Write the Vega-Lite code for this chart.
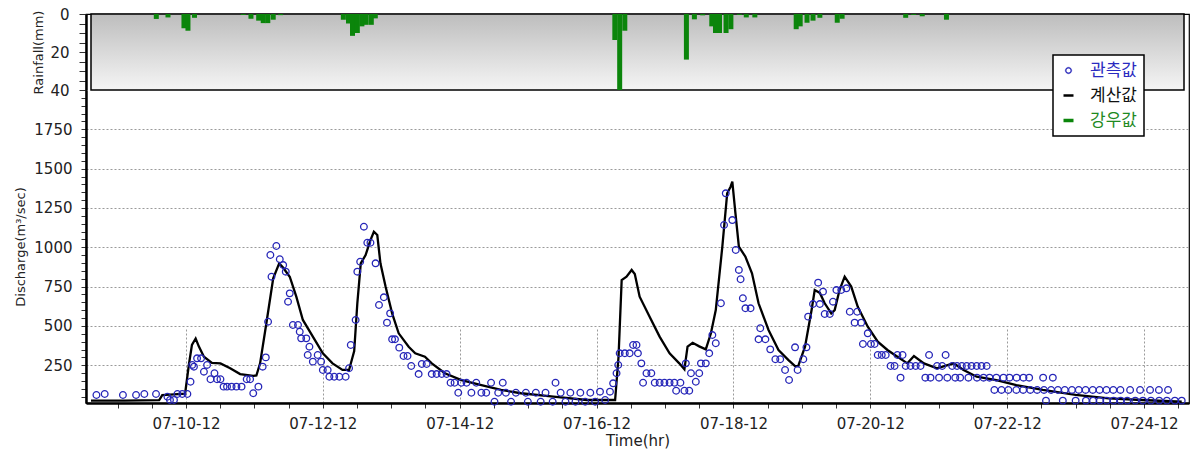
{
  "$schema": "https://vega.github.io/schema/vega-lite/v6.json",
  "width": 1103,
  "height": 389,
  "autosize": {"type": "none"},
  "padding": {"left": 86, "top": 14, "right": 3, "bottom": 47},
  "background": "white",
  "config": {
    "font": "DejaVu Sans",
    "view": {"stroke": "black", "strokeWidth": 1.2}
  },
  "datasets": {
    "rain": [
      {"h": 25.6, "mm": 2.6}, {"h": 29.7, "mm": 1.8}, {"h": 35.3, "mm": 7.5}, {"h": 36.7, "mm": 8.8}, {"h": 39.0, "mm": 2},
      {"h": 56.1, "mm": 0.5}, {"h": 58.8, "mm": 2.5}, {"h": 61.5, "mm": 3.5}, {"h": 63.1, "mm": 4.8}, {"h": 64.7, "mm": 4.8},
      {"h": 66.6, "mm": 3}, {"h": 69.2, "mm": 0.6}, {"h": 91.2, "mm": 3}, {"h": 93.0, "mm": 5}, {"h": 94.4, "mm": 11.5},
      {"h": 96.1, "mm": 10}, {"h": 97.7, "mm": 6.5}, {"h": 99.2, "mm": 5.7}, {"h": 101.0, "mm": 5.7}, {"h": 102.4, "mm": 2.3},
      {"h": 186.4, "mm": 13.7}, {"h": 188.1, "mm": 40}, {"h": 189.9, "mm": 8.8}, {"h": 211.5, "mm": 24}, {"h": 214.3, "mm": 2.8},
      {"h": 217.2, "mm": 0.7}, {"h": 220.4, "mm": 6.5}, {"h": 221.7, "mm": 10}, {"h": 223.1, "mm": 10}, {"h": 225.4, "mm": 10},
      {"h": 227.1, "mm": 8}, {"h": 230.1, "mm": 0.5}, {"h": 232.5, "mm": 1.8}, {"h": 235.5, "mm": 1.8}, {"h": 250.0, "mm": 8},
      {"h": 251.4, "mm": 6.5}, {"h": 253.8, "mm": 4.6}, {"h": 255.9, "mm": 3.5}, {"h": 258.3, "mm": 2}, {"h": 264.4, "mm": 4.6},
      {"h": 266.1, "mm": 2.5}, {"h": 288.4, "mm": 2}, {"h": 291.2, "mm": 0.5}, {"h": 294.2, "mm": 1.2}, {"h": 302.7, "mm": 3}
    ],
    "calc": [
      {"h": 2.7, "q": 25}, {"h": 14.5, "q": 25}, {"h": 26.6, "q": 28}, {"h": 27.7, "q": 60}, {"h": 31.8, "q": 65},
      {"h": 35.7, "q": 70}, {"h": 37.0, "q": 250}, {"h": 38.1, "q": 380}, {"h": 39.4, "q": 420}, {"h": 40.5, "q": 370},
      {"h": 42.3, "q": 304}, {"h": 45.1, "q": 265}, {"h": 48.1, "q": 262}, {"h": 51.5, "q": 231}, {"h": 55.0, "q": 194},
      {"h": 59.6, "q": 182}, {"h": 60.7, "q": 185}, {"h": 62.0, "q": 262}, {"h": 64.2, "q": 517}, {"h": 66.6, "q": 803},
      {"h": 68.7, "q": 898}, {"h": 70.1, "q": 870}, {"h": 72.4, "q": 813}, {"h": 74.7, "q": 686}, {"h": 77.0, "q": 538},
      {"h": 80.5, "q": 432}, {"h": 84.0, "q": 326}, {"h": 87.4, "q": 262}, {"h": 90.9, "q": 220}, {"h": 93.2, "q": 220},
      {"h": 95.0, "q": 340}, {"h": 96.1, "q": 644}, {"h": 97.3, "q": 898}, {"h": 99.0, "q": 951}, {"h": 100.7, "q": 1046},
      {"h": 101.9, "q": 1099}, {"h": 103.1, "q": 1078}, {"h": 104.2, "q": 898}, {"h": 106.0, "q": 750}, {"h": 108.3, "q": 580},
      {"h": 110.6, "q": 453}, {"h": 114.1, "q": 368}, {"h": 116.4, "q": 326}, {"h": 119.8, "q": 304}, {"h": 122.2, "q": 262},
      {"h": 126.8, "q": 199}, {"h": 132.6, "q": 156}, {"h": 139.6, "q": 124}, {"h": 146.5, "q": 93}, {"h": 153.5, "q": 72},
      {"h": 164.9, "q": 50}, {"h": 176.6, "q": 29}, {"h": 186.5, "q": 29}, {"h": 187.7, "q": 304}, {"h": 188.8, "q": 792},
      {"h": 190.5, "q": 813}, {"h": 192.3, "q": 856}, {"h": 193.4, "q": 830}, {"h": 195.1, "q": 686}, {"h": 198.6, "q": 559},
      {"h": 202.1, "q": 432}, {"h": 205.6, "q": 326}, {"h": 209.0, "q": 262}, {"h": 210.8, "q": 224}, {"h": 211.9, "q": 368},
      {"h": 213.7, "q": 393}, {"h": 216.0, "q": 370}, {"h": 218.3, "q": 351}, {"h": 220.1, "q": 453}, {"h": 221.8, "q": 601},
      {"h": 224.1, "q": 1004}, {"h": 225.8, "q": 1343}, {"h": 227.0, "q": 1385}, {"h": 227.6, "q": 1417}, {"h": 228.7, "q": 1216},
      {"h": 229.9, "q": 1004}, {"h": 232.2, "q": 940}, {"h": 234.5, "q": 835}, {"h": 236.8, "q": 644}, {"h": 240.3, "q": 474},
      {"h": 243.8, "q": 347}, {"h": 247.3, "q": 283}, {"h": 249.6, "q": 245}, {"h": 250.7, "q": 245}, {"h": 253.1, "q": 368},
      {"h": 255.4, "q": 601}, {"h": 256.5, "q": 728}, {"h": 258.3, "q": 710}, {"h": 260.0, "q": 644}, {"h": 262.3, "q": 580},
      {"h": 263.5, "q": 601}, {"h": 265.2, "q": 728}, {"h": 267.0, "q": 813}, {"h": 269.3, "q": 750}, {"h": 271.6, "q": 622},
      {"h": 275.1, "q": 495}, {"h": 278.6, "q": 400}, {"h": 282.0, "q": 347}, {"h": 285.5, "q": 304}, {"h": 289.0, "q": 262},
      {"h": 291.3, "q": 309}, {"h": 294.8, "q": 262}, {"h": 299.4, "q": 231}, {"h": 305.2, "q": 262}, {"h": 308.7, "q": 220},
      {"h": 313.3, "q": 177}, {"h": 320.2, "q": 156}, {"h": 327.2, "q": 124}, {"h": 336.5, "q": 93}, {"h": 348.0, "q": 61},
      {"h": 359.6, "q": 40}, {"h": 371.2, "q": 29}, {"h": 385.2, "q": 18}
    ],
    "obs": [
      {"h": 4.6, "q": 61}, {"h": 7.5, "q": 67}, {"h": 13.9, "q": 61}, {"h": 18.5, "q": 61}, {"h": 21.4, "q": 67},
      {"h": 25.5, "q": 67}, {"h": 29.5, "q": 50}, {"h": 30.4, "q": 29}, {"h": 31.8, "q": 29}, {"h": 33.0, "q": 67},
      {"h": 34.7, "q": 67}, {"h": 36.5, "q": 67}, {"h": 37.6, "q": 145}, {"h": 38.2, "q": 252}, {"h": 38.8, "q": 241},
      {"h": 39.9, "q": 294}, {"h": 41.3, "q": 294}, {"h": 42.3, "q": 209}, {"h": 43.4, "q": 252}, {"h": 44.6, "q": 161},
      {"h": 46.0, "q": 199}, {"h": 46.9, "q": 161}, {"h": 48.1, "q": 161}, {"h": 49.2, "q": 114}, {"h": 50.4, "q": 114},
      {"h": 52.0, "q": 114}, {"h": 53.7, "q": 114}, {"h": 55.5, "q": 114}, {"h": 57.3, "q": 161}, {"h": 58.5, "q": 161},
      {"h": 59.6, "q": 72}, {"h": 61.4, "q": 114}, {"h": 62.9, "q": 241}, {"h": 64.0, "q": 300}, {"h": 64.8, "q": 527},
      {"h": 65.6, "q": 951}, {"h": 66.0, "q": 813}, {"h": 67.7, "q": 1008}, {"h": 68.9, "q": 924}, {"h": 70.1, "q": 887},
      {"h": 71.0, "q": 845}, {"h": 71.8, "q": 654}, {"h": 72.4, "q": 707}, {"h": 73.5, "q": 506}, {"h": 75.3, "q": 506},
      {"h": 75.9, "q": 463}, {"h": 76.4, "q": 421}, {"h": 78.2, "q": 421}, {"h": 78.7, "q": 315}, {"h": 79.3, "q": 368},
      {"h": 80.5, "q": 273}, {"h": 82.2, "q": 315}, {"h": 83.4, "q": 273}, {"h": 84.0, "q": 220}, {"h": 85.7, "q": 220},
      {"h": 86.3, "q": 177}, {"h": 88.0, "q": 177}, {"h": 89.8, "q": 177}, {"h": 92.0, "q": 177}, {"h": 93.2, "q": 231},
      {"h": 93.8, "q": 379}, {"h": 95.5, "q": 538}, {"h": 96.1, "q": 845}, {"h": 97.1, "q": 908}, {"h": 98.4, "q": 1131},
      {"h": 99.6, "q": 1029}, {"h": 100.7, "q": 1029}, {"h": 102.5, "q": 898}, {"h": 103.7, "q": 633}, {"h": 105.4, "q": 682},
      {"h": 106.5, "q": 521}, {"h": 107.6, "q": 580}, {"h": 108.3, "q": 415}, {"h": 109.3, "q": 415}, {"h": 110.8, "q": 362},
      {"h": 112.3, "q": 309}, {"h": 113.7, "q": 309}, {"h": 115.0, "q": 245}, {"h": 117.6, "q": 194}, {"h": 118.7, "q": 258},
      {"h": 120.4, "q": 258}, {"h": 122.2, "q": 194}, {"h": 123.9, "q": 194}, {"h": 125.7, "q": 194}, {"h": 127.4, "q": 194},
      {"h": 128.8, "q": 139}, {"h": 130.2, "q": 139}, {"h": 131.5, "q": 75}, {"h": 132.6, "q": 139}, {"h": 134.4, "q": 139},
      {"h": 136.1, "q": 75}, {"h": 137.8, "q": 139}, {"h": 139.6, "q": 75}, {"h": 141.3, "q": 75}, {"h": 143.0, "q": 139},
      {"h": 144.2, "q": 18}, {"h": 145.5, "q": 75}, {"h": 147.1, "q": 139}, {"h": 148.2, "q": 75}, {"h": 150.0, "q": 18},
      {"h": 151.7, "q": 75}, {"h": 155.2, "q": 75}, {"h": 155.9, "q": 18}, {"h": 158.7, "q": 75}, {"h": 160.4, "q": 18},
      {"h": 162.1, "q": 75}, {"h": 164.6, "q": 18}, {"h": 165.6, "q": 139}, {"h": 167.4, "q": 75}, {"h": 169.1, "q": 18},
      {"h": 170.8, "q": 75}, {"h": 172.6, "q": 18}, {"h": 174.3, "q": 75}, {"h": 176.0, "q": 18}, {"h": 177.8, "q": 75},
      {"h": 179.5, "q": 18}, {"h": 181.2, "q": 82}, {"h": 183.0, "q": 29}, {"h": 184.7, "q": 82}, {"h": 185.8, "q": 135},
      {"h": 187.0, "q": 199}, {"h": 187.6, "q": 252}, {"h": 188.1, "q": 326}, {"h": 189.9, "q": 326}, {"h": 191.6, "q": 326},
      {"h": 192.8, "q": 379}, {"h": 194.0, "q": 379}, {"h": 194.5, "q": 326}, {"h": 195.7, "q": 262}, {"h": 196.3, "q": 139},
      {"h": 197.5, "q": 199}, {"h": 199.2, "q": 199}, {"h": 200.4, "q": 139}, {"h": 202.1, "q": 139}, {"h": 203.8, "q": 139},
      {"h": 205.6, "q": 139}, {"h": 207.3, "q": 139}, {"h": 207.9, "q": 88}, {"h": 209.4, "q": 139}, {"h": 210.8, "q": 88},
      {"h": 211.3, "q": 262}, {"h": 212.5, "q": 88}, {"h": 213.1, "q": 199}, {"h": 214.8, "q": 145}, {"h": 216.0, "q": 199},
      {"h": 216.6, "q": 262}, {"h": 218.3, "q": 262}, {"h": 219.5, "q": 326}, {"h": 220.6, "q": 442}, {"h": 221.8, "q": 390},
      {"h": 223.6, "q": 644}, {"h": 224.7, "q": 1142}, {"h": 225.3, "q": 1343}, {"h": 227.6, "q": 1173}, {"h": 228.8, "q": 983},
      {"h": 229.9, "q": 856}, {"h": 230.5, "q": 797}, {"h": 231.3, "q": 676}, {"h": 232.2, "q": 612}, {"h": 234.0, "q": 612},
      {"h": 236.8, "q": 415}, {"h": 237.4, "q": 485}, {"h": 239.2, "q": 415}, {"h": 240.9, "q": 351}, {"h": 242.7, "q": 288},
      {"h": 244.4, "q": 288}, {"h": 246.1, "q": 220}, {"h": 247.5, "q": 156}, {"h": 249.6, "q": 364}, {"h": 250.5, "q": 220},
      {"h": 252.5, "q": 288}, {"h": 253.6, "q": 364}, {"h": 254.2, "q": 559}, {"h": 255.9, "q": 639}, {"h": 257.7, "q": 775},
      {"h": 258.3, "q": 639}, {"h": 259.4, "q": 718}, {"h": 260.0, "q": 576}, {"h": 261.8, "q": 576}, {"h": 262.9, "q": 654},
      {"h": 264.1, "q": 728}, {"h": 265.8, "q": 728}, {"h": 267.6, "q": 739}, {"h": 268.8, "q": 590}, {"h": 270.5, "q": 521},
      {"h": 271.4, "q": 590}, {"h": 272.8, "q": 521}, {"h": 273.4, "q": 385}, {"h": 275.1, "q": 453}, {"h": 276.2, "q": 385},
      {"h": 277.5, "q": 385}, {"h": 278.6, "q": 315}, {"h": 280.0, "q": 315}, {"h": 281.4, "q": 315}, {"h": 283.1, "q": 245},
      {"h": 284.5, "q": 245}, {"h": 285.5, "q": 315}, {"h": 286.6, "q": 171}, {"h": 287.3, "q": 315}, {"h": 288.4, "q": 245},
      {"h": 290.1, "q": 245}, {"h": 291.9, "q": 245}, {"h": 293.6, "q": 245}, {"h": 295.3, "q": 171}, {"h": 296.6, "q": 315},
      {"h": 297.1, "q": 171}, {"h": 299.4, "q": 245}, {"h": 300.1, "q": 171}, {"h": 301.2, "q": 245}, {"h": 302.4, "q": 315},
      {"h": 303.0, "q": 171}, {"h": 304.7, "q": 245}, {"h": 305.8, "q": 171}, {"h": 306.4, "q": 245}, {"h": 307.5, "q": 171},
      {"h": 308.1, "q": 245}, {"h": 309.8, "q": 245}, {"h": 310.4, "q": 171}, {"h": 311.5, "q": 245}, {"h": 313.3, "q": 245},
      {"h": 313.4, "q": 171}, {"h": 315.0, "q": 245}, {"h": 315.7, "q": 171}, {"h": 316.8, "q": 245}, {"h": 317.8, "q": 171},
      {"h": 319.5, "q": 93}, {"h": 320.2, "q": 171}, {"h": 322.0, "q": 93}, {"h": 322.7, "q": 171}, {"h": 324.4, "q": 93},
      {"h": 324.8, "q": 171}, {"h": 327.2, "q": 93}, {"h": 327.3, "q": 171}, {"h": 329.6, "q": 93}, {"h": 329.7, "q": 171},
      {"h": 331.7, "q": 171}, {"h": 332.1, "q": 93}, {"h": 334.5, "q": 93}, {"h": 336.6, "q": 171}, {"h": 336.9, "q": 93},
      {"h": 337.6, "q": 25}, {"h": 339.4, "q": 93}, {"h": 340.0, "q": 171}, {"h": 341.8, "q": 93}, {"h": 343.5, "q": 25},
      {"h": 344.2, "q": 93}, {"h": 346.7, "q": 93}, {"h": 348.0, "q": 25}, {"h": 349.1, "q": 93}, {"h": 351.5, "q": 93},
      {"h": 351.6, "q": 25}, {"h": 354.0, "q": 93}, {"h": 354.1, "q": 25}, {"h": 356.4, "q": 93}, {"h": 356.5, "q": 25},
      {"h": 358.8, "q": 93}, {"h": 358.9, "q": 25}, {"h": 361.2, "q": 93}, {"h": 361.3, "q": 25}, {"h": 363.7, "q": 93},
      {"h": 363.8, "q": 25}, {"h": 366.1, "q": 25}, {"h": 367.1, "q": 93}, {"h": 368.9, "q": 25}, {"h": 370.6, "q": 93},
      {"h": 371.6, "q": 25}, {"h": 374.1, "q": 93}, {"h": 374.4, "q": 25}, {"h": 377.2, "q": 93}, {"h": 377.3, "q": 25},
      {"h": 380.0, "q": 25}, {"h": 380.4, "q": 93}, {"h": 382.8, "q": 25}, {"h": 385.2, "q": 25}
    ]
  },
  "layer": [
    {
      "layer": [
        {
          "data": {"values": [{}]},
          "mark": {
            "type": "rect",
            "fill": {
              "gradient": "linear", "x1": 0, "y1": 0, "x2": 0, "y2": 1,
              "stops": [{"offset": 0, "color": "#bdbdbd"}, {"offset": 1, "color": "#f5f5f5"}]
            },
            "stroke": "black",
            "strokeWidth": 1.5
          },
          "encoding": {
            "x": {"datum": 2.7, "type": "quantitative"},
            "x2": {"datum": 386},
            "y": {"datum": 0, "type": "quantitative"},
            "y2": {"datum": 40}
          }
        },
        {
          "data": {"name": "rain"},
          "mark": {"type": "bar", "size": 5},
          "encoding": {
            "x": {"field": "h", "type": "quantitative"},
            "y": {
              "field": "mm", "type": "quantitative", "stack": null,
              "scale": {"domain": [0, 40], "range": [0, 76], "nice": false, "zero": false},
              "axis": {
                "title": "Rainfall(mm)", "orient": "left",
                "values": [0, 5, 10, 15, 20, 25, 30, 35, 40], "tickCount": 100,
                "labelExpr": "datum.value % 20 === 0 ? '' + datum.value : ''",
                "grid": false, "tickSize": 7, "tickColor": "#333", "labelPadding": 10,
                "labelFontSize": 15, "labelColor": "#222", "labelOverlap": false,
                "titleFontSize": 13, "titleFontWeight": "normal", "titleColor": "#222", "titlePadding": 4,
                "domainColor": "black", "domainWidth": 2.5
              }
            },
            "color": {"datum": "강우값", "type": "nominal"}
          }
        }
      ]
    },
    {
      "layer": [
        {
          "data": {"name": "calc"},
          "mark": {"type": "line", "strokeWidth": 2.3},
          "encoding": {
            "x": {
              "field": "h", "type": "quantitative",
              "scale": {"domain": [2.7, 386], "nice": false, "zero": false},
              "axis": {
                "title": "Time(hr)",
                "values": [12, 24, 36, 48, 60, 72, 84, 96, 108, 120, 132, 144, 156, 168, 180, 192, 204, 216, 228, 240, 252, 264, 276, 288, 300, 312, 324, 336, 348, 360, 372, 384],
                "tickCount": 100,
                "labelExpr": "(datum.value - 36) % 48 === 0 ? timeFormat(datetime(2012, 6, 9, datum.value), '%m-%d-%H') : ''",
                "grid": true,
                "gridOpacity": {"condition": {"test": "(datum.value - 36) % 48 === 0", "value": 1}, "value": 0},
                "gridDash": [2, 2], "gridColor": "#9a9a9a", "gridWidth": 1,
                "tickSize": 5, "tickColor": "#333", "labelPadding": 8,
                "labelFontSize": 15, "labelColor": "#222", "labelFlush": false, "labelOverlap": false,
                "titleFontSize": 15, "titleFontWeight": "normal", "titleColor": "#222", "titlePadding": 2,
                "domainColor": "black", "domainWidth": 2.5
              }
            },
            "y": {
              "field": "q", "type": "quantitative",
              "scale": {"domain": [10, 2000], "range": [389, 76], "nice": false, "zero": false},
              "axis": {
                "title": "Discharge(m³/sec)", "orient": "left",
                "values": [50, 100, 150, 200, 250, 300, 350, 400, 450, 500, 550, 600, 650, 700, 750, 800, 850, 900, 950, 1000, 1050, 1100, 1150, 1200, 1250, 1300, 1350, 1400, 1450, 1500, 1550, 1600, 1650, 1700, 1750, 1800, 1850, 1900, 1950],
                "tickCount": 100,
                "labelExpr": "datum.value % 250 === 0 ? '' + datum.value : ''",
                "grid": true,
                "gridOpacity": {"condition": {"test": "datum.value % 250 === 0", "value": 1}, "value": 0},
                "gridDash": [2, 2], "gridColor": "#9a9a9a", "gridWidth": 1,
                "tickSize": 5, "tickColor": "#333", "labelPadding": 9,
                "labelFontSize": 15, "labelColor": "#222", "labelOverlap": false,
                "titleFontSize": 13, "titleFontWeight": "normal", "titleColor": "#222", "titlePadding": 6,
                "domainColor": "black", "domainWidth": 2.5
              }
            },
            "color": {
              "datum": "계산값", "type": "nominal",
              "scale": {"domain": ["관측값", "계산값", "강우값"], "range": ["#2626b8", "#000000", "#0b850b"]},
              "legend": {
                "title": null, "orient": "none", "legendX": 967, "legendY": 41, "direction": "vertical",
                "padding": 7, "strokeColor": "black", "fillColor": "white",
                "labelFont": "Noto Sans CJK KR", "labelFontSize": 17, "rowPadding": 7, "labelOffset": 13,
                "symbolSize": 100,
                "encode": {
                  "symbols": {"update": {
                    "shape": {"signal": "datum.value === '관측값' ? 'M1,0A1,1 0 1,1 -1,0A1,1 0 1,1 1,0ZM0.7,0A0.7,0.7 0 1,0 -0.7,0A0.7,0.7 0 1,0 0.7,0Z' : 'stroke'"},
                    "size": {"signal": "datum.value === '관측값' ? 42 : 100"},
                    "strokeWidth": {"signal": "datum.value === '관측값' ? 0.4 : datum.value === '계산값' ? 2.5 : 3.5"},
                    "stroke": {"signal": "datum.value === '관측값' ? '#2626b8' : datum.value === '계산값' ? '#000000' : '#0b850b'"},
                    "fill": {"signal": "datum.value === '관측값' ? '#2626b8' : 'transparent'"},
                    "opacity": {"value": 1}
                  }},
                  "labels": {"update": {
                    "fill": {"signal": "datum.value === '관측값' ? '#2a2ac0' : datum.value === '계산값' ? '#111111' : '#1f8a1f'"}
                  }},
                  "legend": {"update": {"strokeWidth": {"value": 1.5}}}
                }
              }
            }
          }
        },
        {
          "data": {"name": "obs"},
          "mark": {"type": "point", "filled": false, "size": 44, "strokeWidth": 1.3, "opacity": 1},
          "encoding": {
            "x": {"field": "h", "type": "quantitative"},
            "y": {"field": "q", "type": "quantitative"},
            "color": {"datum": "관측값", "type": "nominal"}
          }
        }
      ]
    }
  ],
  "resolve": {"scale": {"y": "independent"}, "axis": {"y": "independent"}}
}
